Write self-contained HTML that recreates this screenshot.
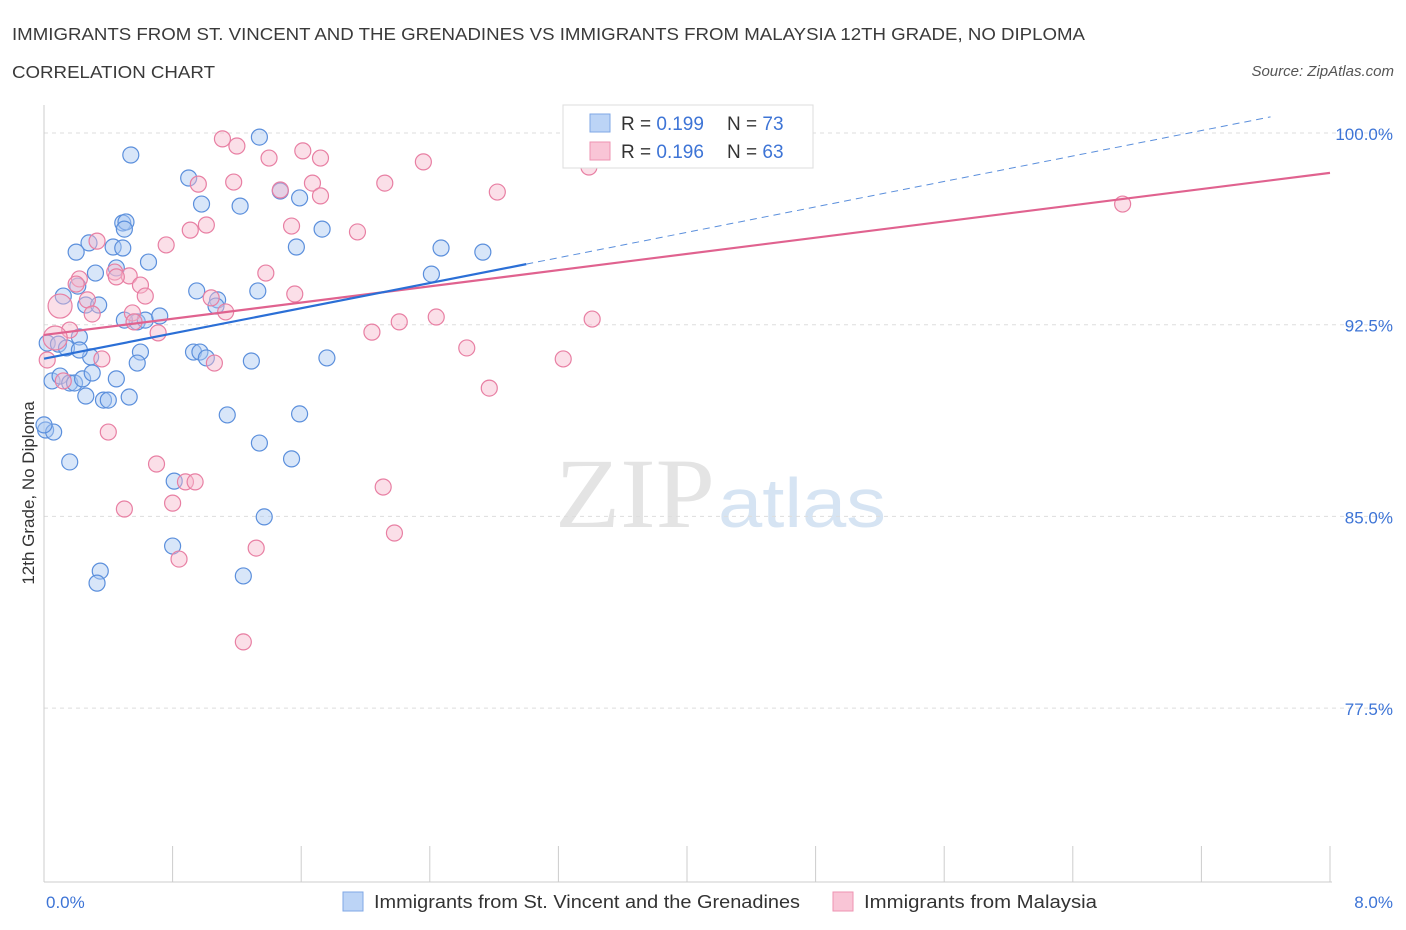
<!DOCTYPE html>
<html><head><meta charset="utf-8">
<style>
body{margin:0;background:#fff;font-family:"Liberation Sans",sans-serif;}
svg{display:block}
</style></head>
<body>
<svg id="chart" width="1406" height="930" xmlns="http://www.w3.org/2000/svg">
<text x="12" y="40" font-size="17.5" fill="#3a3a3a" textLength="1073" lengthAdjust="spacingAndGlyphs">IMMIGRANTS FROM ST. VINCENT AND THE GRENADINES VS IMMIGRANTS FROM MALAYSIA 12TH GRADE, NO DIPLOMA</text>
<text x="12" y="78" font-size="17.5" fill="#3a3a3a" textLength="203" lengthAdjust="spacingAndGlyphs">CORRELATION CHART</text>
<text x="1394" y="76" font-size="15" fill="#555" font-style="italic" text-anchor="end">Source: ZipAtlas.com</text>
<g>
<text x="555" y="527" font-size="100" fill="#e4e4e4" font-family="Liberation Serif,serif" textLength="160" lengthAdjust="spacingAndGlyphs">ZIP</text>
<text x="718" y="527" font-size="70" fill="#d6e4f3" textLength="168" lengthAdjust="spacingAndGlyphs">atlas</text>
</g>
<g id="grid"></g>
<g id="axes"></g>
<g id="pts"></g>
<g id="lines"></g>
<text transform="translate(34,493) rotate(-90)" font-size="17" fill="#333" text-anchor="middle">12th Grade, No Diploma</text>
<text x="46" y="908" font-size="17" fill="#3d74d6">0.0%</text>
<text x="1393" y="908" font-size="17" fill="#3d74d6" text-anchor="end">8.0%</text>
<g>
<rect x="563" y="105" width="250" height="63" fill="#fff" stroke="#ddd"/>
<rect x="590" y="114" width="20" height="18" fill="#bcd4f6" stroke="#7fa7e6"/>
<rect x="590" y="142" width="20" height="18" fill="#f9c5d6" stroke="#ee93b2"/>
<text x="621" y="130" font-size="19" fill="#333">R = <tspan fill="#3d74d6">0.199</tspan></text>
<text x="727" y="130" font-size="19" fill="#333">N = <tspan fill="#3d74d6">73</tspan></text>
<text x="621" y="158" font-size="19" fill="#333">R = <tspan fill="#3d74d6">0.196</tspan></text>
<text x="727" y="158" font-size="19" fill="#333">N = <tspan fill="#3d74d6">63</tspan></text>
</g>
<g>
<rect x="343" y="892" width="20" height="19" fill="#bcd4f6" stroke="#7fa7e6"/>
<text x="374" y="908" font-size="18.5" fill="#333" textLength="426" lengthAdjust="spacingAndGlyphs">Immigrants from St. Vincent and the Grenadines</text>
<rect x="833" y="892" width="20" height="19" fill="#f9c5d6" stroke="#ee93b2"/>
<text x="864" y="908" font-size="18.5" fill="#333" textLength="233" lengthAdjust="spacingAndGlyphs">Immigrants from Malaysia</text>
</g>
</svg>
<script>
const yTicks=[100,92.5,85,77.5];
const yTickLabels=["100.0%","92.5%","85.0%","77.5%"];
const xTicks=[0,0.8,1.6,2.4,3.2,4.0,4.8,5.6,6.4,7.2,8.0];
const blueX=[0.54,1.34,0.90,0.98,1.22,1.47,1.59,0.49,0.51,0.50,0.28,0.20,0.43,0.49,1.57,1.73,0.65,0.45,0.32,0.12,0.21,0.26,0.34,0.95,1.08,1.07,1.33,2.47,2.73,2.41,0.58,0.63,0.72,0.02,0.09,0.14,0.22,0.29,0.60,0.58,0.93,0.97,1.01,1.29,1.76,0.05,0.10,0.16,0.19,0.24,0.30,0.45,0.26,0.37,0.40,0.53,1.14,1.59,0.01,0.06,0.16,1.34,1.54,0.81,1.37,0.80,0.35,0.33,1.24,0.50,0.00,0.22];
const blueY=[99.14,99.84,98.24,97.22,97.14,97.73,97.46,96.48,96.52,96.24,95.70,95.34,95.54,95.50,95.54,96.24,94.95,94.72,94.52,93.62,94.01,93.27,93.27,93.82,93.47,93.23,93.82,95.50,95.34,94.48,92.61,92.68,92.84,91.78,91.74,91.59,92.02,91.24,91.43,91.00,91.43,91.43,91.20,91.08,91.20,90.30,90.49,90.22,90.22,90.38,90.61,90.38,89.71,89.55,89.55,89.67,88.97,89.01,88.38,88.30,87.13,87.87,87.25,86.38,84.98,83.84,82.86,82.39,82.67,92.68,88.58,91.51];
const pinkX=[1.11,1.20,1.40,1.61,1.72,2.36,3.39,0.96,1.18,1.47,1.67,1.72,2.12,2.82,6.71,1.01,0.91,1.54,1.95,0.33,0.76,0.44,0.53,1.38,0.22,0.20,0.60,0.27,0.63,1.04,1.13,1.56,0.30,0.55,0.56,0.71,0.16,0.10,0.07,2.04,2.21,2.44,3.41,2.63,3.23,0.36,1.06,0.12,2.77,0.40,0.70,0.88,0.94,0.80,0.50,2.11,1.32,0.84,2.18,1.24,0.02,0.45];
const pinkY=[99.77,99.49,99.02,99.30,99.02,98.87,98.67,98.00,98.08,97.77,98.04,97.54,98.04,97.69,97.22,96.40,96.20,96.36,96.13,95.77,95.62,94.56,94.41,94.52,94.29,94.09,94.05,93.47,93.62,93.55,93.00,93.70,92.92,92.96,92.61,92.18,92.29,93.23,91.98,92.21,92.61,92.80,92.72,91.59,91.16,91.16,91.00,90.30,90.02,88.30,87.05,86.35,86.35,85.52,85.29,86.15,83.76,83.33,84.35,80.09,91.12,94.37];
const pinkBig=[37,38];
const blueTrend=[[0,91.17],[3.0,94.87]];
const blueTrendExt=[[3.0,94.87],[7.63,100.63]];
const pinkTrend=[[0,92.10],[8,98.44]];

const X0=44,X1=1330,Y100=133,PPY=25.56,TOP=105,BOT=882;
const sx=v=>X0+(v/8)*(X1-X0);
const sy=v=>Y100+(100-v)*PPY;
const NS="http://www.w3.org/2000/svg";
function mk(tag,attrs,parent){const e=document.createElementNS(NS,tag);for(const k in attrs)e.setAttribute(k,attrs[k]);parent.appendChild(e);return e;}
const grid=document.getElementById('grid'),axes=document.getElementById('axes'),pts=document.getElementById('pts'),lines=document.getElementById('lines');
yTicks.forEach((t,i)=>{
 const l=mk('line',{x1:X0,x2:1395,y1:sy(t),y2:sy(t),stroke:'#ddd','stroke-dasharray':'4,4'},grid);
 
 
 const tx=mk('text',{x:1393,y:sy(t)+7,'font-size':17,fill:'#3d74d6','text-anchor':'end'},grid);
 tx.textContent=yTickLabels[i];
 
 
});
const ya=mk('line',{x1:X0,x2:X0,y1:TOP,y2:BOT,stroke:'#ccc'},axes);


const xa=mk('line',{x1:X0,x2:X1+2,y1:BOT,y2:BOT,stroke:'#ccc'},axes);


xTicks.forEach(t=>{
 const l=mk('line',{x1:sx(t),x2:sx(t),y1:846,y2:BOT,stroke:'#ccc'},axes);
 
 
});
function dot(x,y,r,fill,stroke,name){
 const c=mk('circle',{cx:sx(x),cy:sy(y),r:r,fill:fill,'fill-opacity':0.45,stroke:stroke,'stroke-width':1.2},pts);
 
 
}
blueX.forEach((x,i)=>dot(x,blueY[i],8,'#a9c8f2','#5b8fdc','point-stvincent'));
pinkX.forEach((x,i)=>dot(x,pinkY[i],pinkBig.includes(i)?12:8,'#f7b8cc','#e87fa3','point-malaysia'));
function ln(p,color,dash,name,w){
 const l=mk('line',{x1:sx(p[0][0]),y1:sy(p[0][1]),x2:sx(p[1][0]),y2:sy(p[1][1]),stroke:color,'stroke-width':w},lines);
 if(dash)l.setAttribute('stroke-dasharray',dash);
 
 
}
ln(pinkTrend,'#e0628f',null,'trendline-malaysia',2.2);
ln(blueTrend,'#2b6fd6',null,'trendline-stvincent',2.2);
ln(blueTrendExt,'#5b8fdc','7,5','trendline-stvincent-extension',1);
</script>
</body></html>
